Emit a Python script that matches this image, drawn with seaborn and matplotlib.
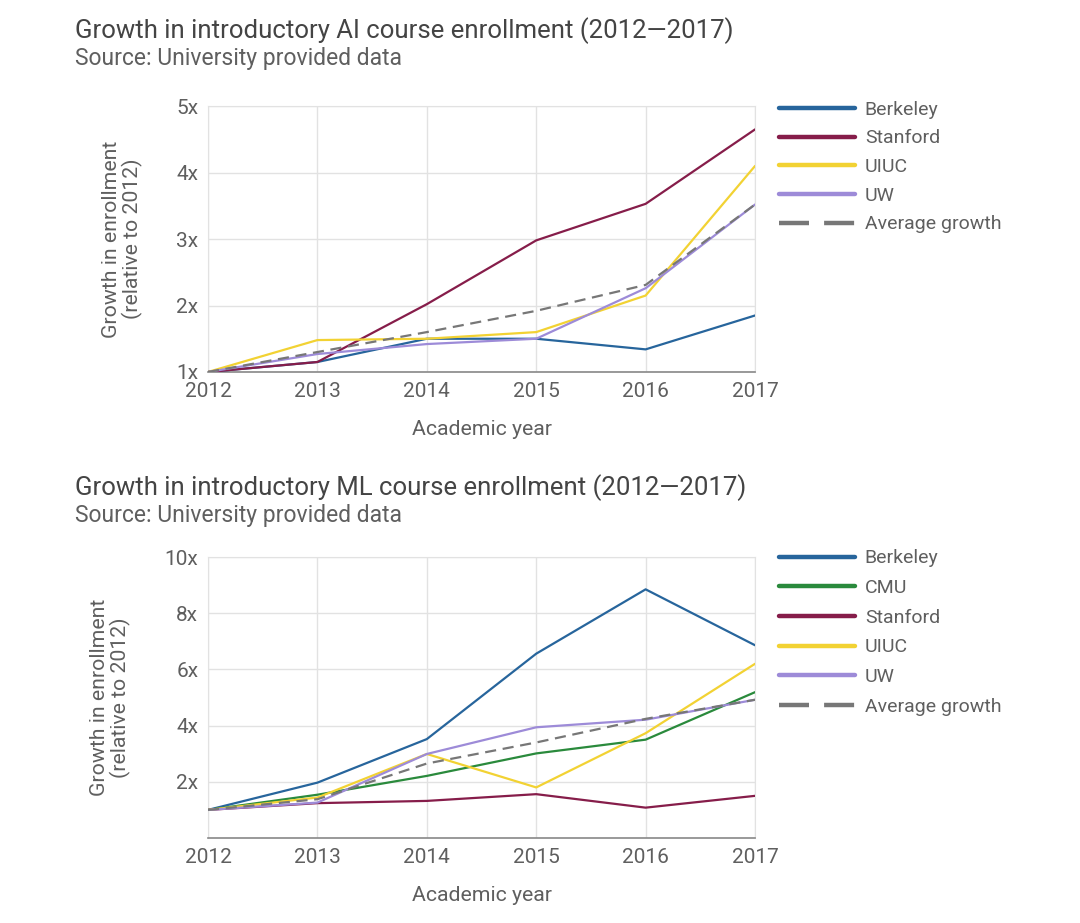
import numpy as np
import pandas as pd
import matplotlib
matplotlib.use("Agg")
import matplotlib.pyplot as plt
import seaborn as sns

years = [2012, 2013, 2014, 2015, 2016, 2017]

# AI course enrollment growth (relative to 2012)
ai_berkeley = [1.0, 1.15, 1.5, 1.5, 1.34, 1.85]
ai_stanford = [1.0, 1.15, 2.02, 2.98, 3.53, 4.65]
ai_uiuc = [1.0, 1.48, 1.5, 1.6, 2.15, 4.1]
ai_uw = [1.0, 1.27, 1.42, 1.5, 2.26, 3.52]
ai_average = [1.0, 1.3, 1.6, 1.92, 2.31, 3.52]

# ML course enrollment growth (relative to 2012)
ml_berkeley = [1.0, 1.97, 3.52, 6.56, 8.85, 6.86]
ml_cmu = [1.0, 1.54, 2.21, 3.01, 3.5, 5.19]
ml_stanford = [1.0, 1.24, 1.32, 1.56, 1.08, 1.5]
ml_uiuc = [1.0, 1.44, 2.99, 1.8, 3.73, 6.2]
ml_uw = [1.0, 1.26, 2.99, 3.94, 4.21, 4.92]
ml_average = [1.0, 1.38, 2.65, 3.4, 4.24, 4.92]

colors = {
    "Berkeley": "#27659c",
    "CMU": "#2a8a3c",
    "Stanford": "#861d4a",
    "UIUC": "#f2d233",
    "UW": "#9d8bd8",
    "Average growth": "#777777",
}

ai_series = {"Berkeley": ai_berkeley, "Stanford": ai_stanford, "UIUC": ai_uiuc,
             "UW": ai_uw, "Average growth": ai_average}
ml_series = {"Berkeley": ml_berkeley, "CMU": ml_cmu, "Stanford": ml_stanford,
             "UIUC": ml_uiuc, "UW": ml_uw, "Average growth": ml_average}

sns.set_style("white")
plt.rcParams["font.family"] = ["Roboto", "DejaVu Sans"]

text_gray = "#5f5f5f"
grid_gray = "#e2e2e2"

fig = plt.figure(figsize=(10.8, 9.23), dpi=100)
ax_ai = fig.add_axes([0.1926, 0.597, 0.5065, 0.288])
ax_ml = fig.add_axes([0.1926, 0.0921, 0.5065, 0.3044])


def draw_panel(ax, series, ylim, yticks, legend_y, spacing):
    for name, vals in series.items():
        df = pd.DataFrame({"year": years, "growth": vals})
        ls = (0, (5, 3)) if name == "Average growth" else "-"
        sns.lineplot(data=df, x="year", y="growth", ax=ax, color=colors[name],
                     linewidth=1.6, linestyle=ls, label=name, zorder=3)
    ax.set_xlim(years[0], years[-1])
    ax.set_ylim(*ylim)
    ax.set_xticks(years)
    ax.set_yticks(yticks)
    ax.set_yticklabels([f"{t}x" for t in yticks])
    ax.grid(True, color=grid_gray, linewidth=1.0)
    for side in ["top", "right", "left"]:
        ax.spines[side].set_color(grid_gray)
    ax.spines["bottom"].set_color("#888888")
    ax.spines["bottom"].set_linewidth(1.2)
    ax.tick_params(axis="both", length=0, labelsize=15, colors=text_gray, pad=7)
    ax.set_xlabel("Academic year", fontsize=15.3, color=text_gray, labelpad=14)
    ax.set_ylabel("Growth in enrollment\n(relative to 2012)", fontsize=15.3,
                  color=text_gray, labelpad=24, linespacing=1.05)
    leg = ax.legend(loc="upper left", bbox_to_anchor=(1.03, legend_y), frameon=False,
                    fontsize=14, handlelength=3.9, handletextpad=0.5,
                    labelspacing=spacing, labelcolor=text_gray, borderaxespad=0)
    for line in leg.get_lines():
        line.set_linewidth(3.2)
        if line.get_label() == "Average growth" or line.get_linestyle() != "-":
            line.set_linestyle((0, (6.75, 3.4)))


draw_panel(ax_ai, ai_series, (1, 5), [1, 2, 3, 4, 5], 1.05, 0.55)
draw_panel(ax_ml, ml_series, (0, 10), [2, 4, 6, 8, 10], 1.055, 0.6)

fig.text(0.069, 0.967, "Growth in introductory AI course enrollment (2012\u20142017)",
         fontsize=18.5, color="#444444", va="center")
fig.text(0.069, 0.937, "Source: University provided data",
         fontsize=16.5, color=text_gray, va="center")
fig.text(0.069, 0.472, "Growth in introductory ML course enrollment (2012\u20142017)",
         fontsize=18.5, color="#444444", va="center")
fig.text(0.069, 0.442, "Source: University provided data",
         fontsize=16.5, color=text_gray, va="center")

fig.savefig("out.png", dpi=100, facecolor="white")
